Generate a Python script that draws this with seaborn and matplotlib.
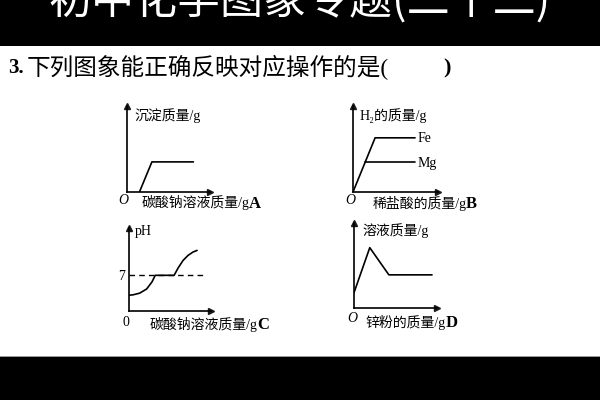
import matplotlib
matplotlib.use("Agg")
import matplotlib.pyplot as plt
from matplotlib.patches import Rectangle
import numpy as np
import pandas as pd
import seaborn as sns

# chart A: precipitate mass vs sodium carbonate solution mass
a_x = [1.5, 3.0, 8.0]
a_y = [0.0, 3.5, 3.5]

# chart B: H2 mass vs dilute HCl mass
b_fe_x = [0.0, 2.6, 7.3]
b_fe_y = [0.0, 6.3, 6.3]
b_mg_x = [1.45, 7.3]
b_mg_y = [3.5, 3.5]
b_series = ["Fe", "Mg"]

# chart C: pH vs sodium carbonate solution mass
c_x = [0.0, 0.5, 1.3, 2.15, 2.8, 3.2, 5.5, 6.0, 6.6, 7.2, 7.8, 8.3]
c_y = [1.9, 1.95, 2.15, 2.65, 3.5, 4.3, 4.3, 5.2, 6.1, 6.7, 7.1, 7.3]
c_ref_x = [0.0, 9.4]
c_ref_y = [4.3, 4.3]

# chart D: solution mass vs zinc powder mass
d_x = [0.0, 1.9, 4.2, 9.4]
d_y = [1.8, 7.1, 3.9, 3.9]

sns.set_theme(style="white")
plt.rcParams["font.family"] = ["Liberation Serif", "Noto Sans CJK SC"]

W, H = 600, 400
fig = plt.figure(figsize=(6, 4), dpi=100)
fig.patch.set_facecolor("black")
fig.add_artist(Rectangle((0, 1 - 356 / H), 1, (356 - 46) / H,
                         transform=fig.transFigure, facecolor="white",
                         edgecolor="none", zorder=0))
fig.add_artist(Rectangle((0, 1 - 357 / H), 1, 1.5 / H,
                         transform=fig.transFigure, facecolor="#9a9a9a",
                         edgecolor="none", zorder=0))


def ftext(px, py, s, **kw):
    kw.setdefault("va", "center")
    kw.setdefault("color", "black")
    fig.text(px / W, 1 - py / H, s, **kw)


def make_ax(ox, oy, tx, ty):
    # ox, oy origin in pixels, tx = x arrow tip, ty = y arrow tip
    ax = fig.add_axes([ox / W, 1 - oy / H, (tx - ox) / W, (oy - ty) / H])
    ax.set_facecolor("none")
    ax.set_xlim(0, 10)
    ax.set_ylim(0, 10)
    ax.set_xticks([])
    ax.set_yticks([])
    for s in ["top", "right"]:
        ax.spines[s].set_visible(False)
    for s in ["left", "bottom"]:
        ax.spines[s].set_color("black")
        ax.spines[s].set_linewidth(1.2)
    ax.plot(1, 0, ">k", transform=ax.transAxes, clip_on=False, markersize=4)
    ax.plot(0, 1, "^k", transform=ax.transAxes, clip_on=False, markersize=4)
    return ax


def clean(ax):
    ax.set_xlabel("")
    ax.set_ylabel("")


lw = 1.2

# title (cut at the top of the frame, as in the screenshot)
ftext(300, 2, "初中化学图象专题(二十二)", ha="center", color="white",
      fontsize=31, family=["Noto Sans CJK SC"], weight="light")

# question
ftext(8, 68, "3.", fontsize=15, weight="bold", family=["Liberation Serif"])
ftext(27, 68, "下列图象能正确反映对应操作的是(", fontsize=17)
ftext(443, 68, ")", fontsize=16, weight="bold")

# A
ax = make_ax(127, 192, 210, 106)
sns.lineplot(x=a_x, y=a_y, ax=ax, color="black", linewidth=lw)
clean(ax)
ftext(134, 116, "沉淀质量/g", fontsize=10)
ftext(118, 200, "O", fontsize=10, style="italic")
ftext(142, 203, "碳酸钠溶液质量/g", fontsize=10)
ftext(249, 204, "A", fontsize=12, weight="bold")

# B
ax = make_ax(353, 192, 438, 106)
df_b = pd.DataFrame({
    "x": b_fe_x + b_mg_x,
    "y": b_fe_y + b_mg_y,
    "metal": [b_series[0]] * len(b_fe_x) + [b_series[1]] * len(b_mg_x),
})
sns.lineplot(data=df_b, x="x", y="y", hue="metal", palette=["black", "black"],
             ax=ax, linewidth=lw, legend=False)
clean(ax)
ftext(418, 138, b_series[0], fontsize=10)
ftext(418, 163, b_series[1], fontsize=10)
ftext(360, 116, "H\u2082的质量/g", fontsize=10)
ftext(345, 200, "O", fontsize=10, style="italic")
ftext(373, 203, "稀盐酸的质量/g", fontsize=10)
ftext(466, 204, "B", fontsize=12, weight="bold")

# C
ax = make_ax(129, 311, 211, 228)
sns.lineplot(x=c_ref_x, y=c_ref_y, ax=ax, color="black", linewidth=1.0,
             linestyle=(0, (4, 3)))
sns.lineplot(x=c_x, y=c_y, ax=ax, color="black", linewidth=lw)
clean(ax)
ftext(135, 231, "pH", fontsize=10)
ftext(118, 276, "7", fontsize=10)
ftext(123, 322, "0", fontsize=10)
ftext(150, 324, "碳酸钠溶液质量/g", fontsize=10)
ftext(257, 325, "C", fontsize=12, weight="bold")

# D
ax = make_ax(354, 308, 437, 223)
sns.lineplot(x=d_x, y=d_y, ax=ax, color="black", linewidth=lw)
clean(ax)
ftext(362, 231, "溶液质量/g", fontsize=10)
ftext(347, 318, "O", fontsize=10, style="italic")
ftext(365, 322, "锌粉的质量/g", fontsize=10)
ftext(446, 323, "D", fontsize=12, weight="bold")

fig.savefig("out.png", dpi=100, facecolor=fig.get_facecolor())
